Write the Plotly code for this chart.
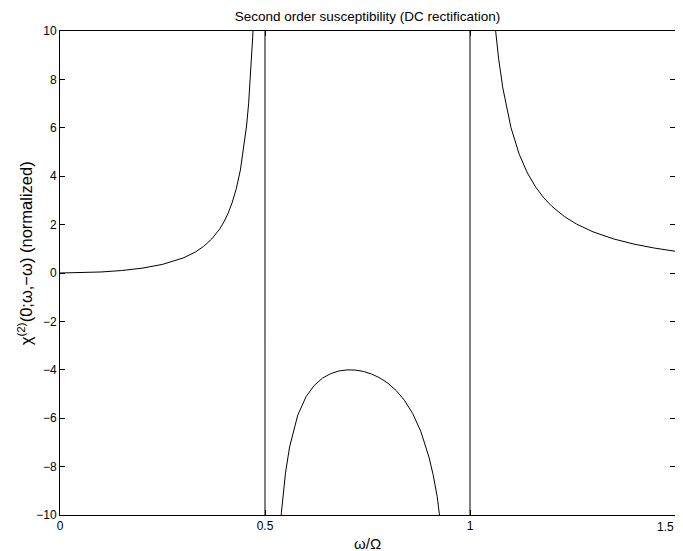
import plotly.graph_objects as go

# Values (normalized chi^(2)(0; w, -w) vs w/Omega)
omega = [0.0, 0.05, 0.1, 0.15, 0.2, 0.25, 0.3, 0.33, 0.35, 0.37, 0.39, 0.40,
         0.41, 0.42, 0.43, 0.44, 0.45, 0.455, 0.46, 0.465, 0.47, 0.475, 0.48,
         0.49, 0.4999,
         0.5001, 0.51, 0.52, 0.53, 0.54, 0.55, 0.56, 0.58, 0.60, 0.62, 0.64,
         0.66, 0.68, 0.70, 0.72, 0.74, 0.76, 0.78, 0.80, 0.82, 0.84, 0.86,
         0.88, 0.90, 0.91, 0.92, 0.93, 0.94, 0.96, 0.98, 0.9999,
         1.0001, 1.02, 1.04, 1.05, 1.06, 1.07, 1.08, 1.10, 1.12, 1.14, 1.16,
         1.18, 1.20, 1.23, 1.26, 1.30, 1.35, 1.40, 1.45, 1.50]

chi2 = [0.0, 0.0101, 0.0421, 0.1012, 0.1984, 0.3556, 0.6181, 0.8661, 1.0949,
        1.4024, 1.8323, 2.1164, 2.4672, 2.9101, 3.4845, 4.2568, 5.3457, 6.0750,
        6.9894, 8.1681, 9.7434, 11.953, 15.274, 31.915, 3332.0,
        -3335.0, -34.806, -18.168, -12.642, -9.895, -8.2608, -7.1836, -5.8673,
        -5.1136, -4.6461, -4.3469, -4.1584, -4.0495, -4.0033, -4.0105, -4.0673,
        -4.1741, -4.3349, -4.5584, -4.8591, -5.2605, -5.8012, -6.5458, -7.6128,
        -8.3330, -9.2395, -10.411, -11.981, -17.503, -34.139, -6667.0,
        6666.0, 32.581, 15.939, 12.617, 10.406, 8.8293, 7.6491, 6.0020, 4.9092,
        4.1328, 3.5538, 3.1061, 2.7502, 2.3357, 2.0199, 1.7009, 1.4091, 1.1940,
        1.0294, 0.9]

x_ticks = [0, 0.5, 1, 1.5]
x_tick_text = ["0", "0.5", "1", "1.5"]
y_ticks = [-10, -8, -6, -4, -2, 0, 2, 4, 6, 8, 10]

title_text = "Second order susceptibility (DC rectification)"
x_label = "ω/Ω"
y_label = "χ<sup>(2)</sup>(0;ω,−ω) (normalized)"

FONT = "Liberation Sans, Arial, Helvetica, sans-serif"

# The page body shifts the figure by 8 px; margins compensate for it.
W, H = 683, 551
L, R, T, B = 52, 16, 23, 44

fig = go.Figure()
fig.add_trace(go.Scatter(
    x=omega, y=chi2, mode="lines",
    line=dict(color="black", width=1),
    showlegend=False, hoverinfo="x+y",
))

axis_common = dict(
    showline=True, linecolor="black", linewidth=1, mirror="ticks",
    ticks="inside", ticklen=5, tickcolor="black", tickwidth=1,
    showgrid=False, zeroline=False, ticklabeloverflow="allow",
    automargin=False,
    tickfont=dict(family=FONT, size=12, color="black"),
)

# The last x tick label sits at the window edge, so it is drawn as a
# right-anchored annotation to keep it fully visible.
fig.update_xaxes(range=[0, 1.5], tickvals=x_ticks,
                 ticktext=x_tick_text[:-1] + [""], **axis_common)
fig.update_yaxes(range=[-10, 10], tickvals=y_ticks, **axis_common)

annotations = [
    dict(text=x_label, xref="paper", yref="paper", x=0.5, y=0,
         yshift=-28, showarrow=False, xanchor="center", yanchor="middle",
         font=dict(family=FONT, size=15, color="black")),
    dict(text=y_label, xref="paper", yref="paper", x=0, y=0.541,
         xshift=-35, showarrow=False, textangle=-90,
         xanchor="center", yanchor="middle",
         font=dict(family=FONT, size=16.5, color="black")),
    dict(text=x_tick_text[-1], xref="x", yref="paper", x=x_ticks[-1], y=0,
         xshift=1, yshift=-3, showarrow=False, xanchor="right",
         yanchor="top",
         font=dict(family=FONT, size=12, color="black")),
]

fig.update_layout(
    width=W, height=H,
    margin=dict(l=L, r=R, t=T, b=B, autoexpand=False),
    paper_bgcolor="white", plot_bgcolor="white",
    font=dict(family=FONT, size=12, color="black"),
    title=dict(text=title_text, x=(L + (W - R)) / 2 / W, xanchor="center",
               y=1 - 8 / H, yanchor="middle", yref="container",
               font=dict(family=FONT, size=13.5, color="black")),
    annotations=annotations,
)

fig.write_html("out.html")
